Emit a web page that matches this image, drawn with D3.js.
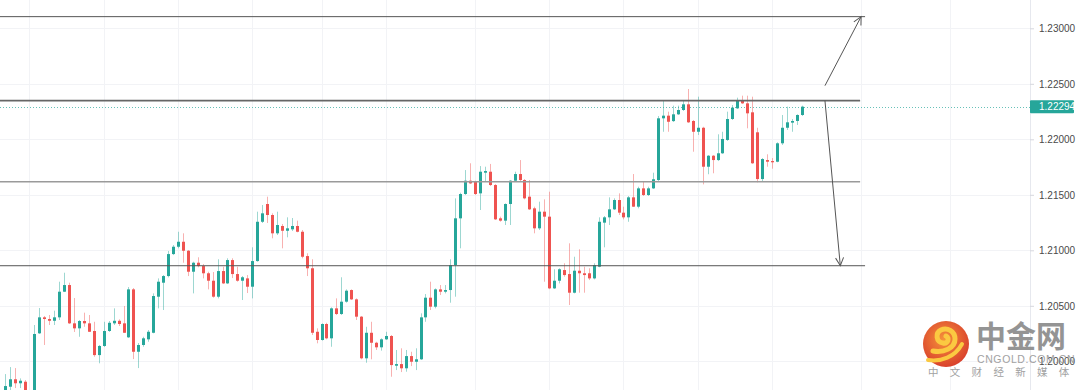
<!DOCTYPE html>
<html>
<head>
<meta charset="utf-8">
<script src="https://d3js.org/d3.v7.min.js"></script>
<style>
  html, body { margin: 0; padding: 0; background: #fff; }
  svg { display: block; font-family: 'Liberation Sans', Arial, sans-serif; }
</style>
</head>
<body>
<div class="chart"></div>
<script>
const width = 1080;
const height = 390;
const axisX = 1030;

// OHLC, one entry per bar (EUR/USD style, 5 decimals)
const opens = [1.19741,1.19771,1.19838,1.19802,1.19816,1.19723,1.19660,1.20252,1.20396,1.20381,
  1.20365,1.20396,1.20627,1.20687,1.20342,1.20297,1.20363,1.20342,1.20273,1.20056,
  1.20138,1.20273,1.20342,1.20365,1.20342,1.20216,1.20648,1.20086,1.20147,1.20198,
  1.20257,1.20582,1.20708,1.20768,1.20966,1.21032,1.21077,1.20996,1.20807,1.20888,
  1.20858,1.20793,1.20726,1.20582,1.20813,1.20702,1.20912,1.20786,1.20726,1.20747,
  1.20672,1.20903,1.21257,1.21417,1.21318,1.21153,1.21219,1.21176,1.21189,1.21219,
  1.21167,1.20948,1.20838,1.20266,1.20192,1.20336,1.20207,1.20477,1.20426,1.20537,
  1.20642,1.20558,1.20402,1.20027,1.20257,1.20167,1.20126,1.20198,1.20228,1.19960,
  1.19975,1.19937,1.20047,1.19996,1.20018,1.20396,1.20573,1.20492,1.20648,1.20627,
  1.20642,1.20867,1.21288,1.21507,1.21627,1.21618,1.21513,1.21699,1.21708,1.21588,
  1.21288,1.21267,1.21417,1.21627,1.21687,1.21633,1.21483,1.21378,1.21198,1.21348,
  1.21303,1.20657,1.20726,1.20822,1.20786,1.20618,1.20816,1.20793,1.20793,1.20747,
  1.20852,1.21249,1.21297,1.21369,1.21453,1.21339,1.21297,1.21477,1.21393,1.21558,
  1.21498,1.21558,1.21633,1.22189,1.22213,1.22164,1.22225,1.22264,1.22315,1.22165,
  1.22068,1.22104,1.21753,1.21852,1.21813,1.21874,1.21994,1.22183,1.22279,1.22345,
  1.22324,1.22243,1.22063,1.21642,1.21813,1.21804,1.21798,1.21964,1.22104,1.22150,
  1.22165,1.22219];
const highs = [1.19885,1.19948,1.19939,1.19846,1.19831,1.19741,1.20327,1.20480,1.20408,1.20417,
  1.20456,1.20717,1.20798,1.20708,1.20570,1.20372,1.20438,1.20417,1.20356,1.20147,
  1.20356,1.20363,1.20477,1.20378,1.20498,1.20669,1.20660,1.20165,1.20221,1.20282,
  1.20612,1.20747,1.20777,1.20994,1.21047,1.21167,1.21153,1.21002,1.20897,1.20937,
  1.20876,1.20807,1.20804,1.20919,1.20852,1.20928,1.20928,1.20852,1.20768,1.20777,
  1.21027,1.21348,1.21408,1.21483,1.21333,1.21348,1.21237,1.21297,1.21291,1.21267,
  1.21183,1.20973,1.20919,1.20297,1.20342,1.20347,1.20486,1.20567,1.20757,1.20648,
  1.20648,1.20567,1.20408,1.20311,1.20356,1.20176,1.20207,1.20266,1.20237,1.20102,
  1.20117,1.20102,1.20086,1.20117,1.20432,1.20606,1.20717,1.20657,1.20687,1.20687,
  1.20919,1.21468,1.21519,1.21723,1.21784,1.21627,1.21759,1.21753,1.21778,1.21597,
  1.21303,1.21423,1.21633,1.21708,1.21813,1.21642,1.21633,1.21393,1.21438,1.21459,
  1.21528,1.20829,1.20838,1.20883,1.21063,1.20942,1.21009,1.20852,1.20838,1.20883,
  1.21297,1.21309,1.21477,1.21468,1.21513,1.21393,1.21489,1.21687,1.21573,1.21618,
  1.21573,1.21699,1.22210,1.22345,1.22249,1.22303,1.22303,1.22354,1.22453,1.22174,
  1.22384,1.22113,1.21858,1.21858,1.22045,1.22068,1.22249,1.22309,1.22375,1.22393,
  1.22393,1.22384,1.22104,1.21831,1.21865,1.21831,1.21973,1.22219,1.22294,1.22183,
  1.22225,1.22303];
const lows = [1.19723,1.19741,1.19759,1.19759,1.19696,1.19615,1.19640,1.20246,1.20147,1.20327,
  1.20327,1.20372,1.20624,1.20336,1.20264,1.20221,1.20311,1.20264,1.20041,1.19982,
  1.20129,1.20264,1.20327,1.20318,1.20255,1.20210,1.20020,1.19939,1.20131,1.20176,
  1.20252,1.20477,1.20462,1.20756,1.20957,1.21018,1.20888,1.20768,1.20612,1.20847,
  1.20747,1.20648,1.20573,1.20567,1.20696,1.20696,1.20750,1.20717,1.20552,1.20615,
  1.20567,1.20897,1.21246,1.21246,1.21108,1.21138,1.21018,1.21117,1.21174,1.21162,
  1.20928,1.20768,1.20237,1.20162,1.20186,1.20198,1.20131,1.20417,1.20417,1.20528,
  1.20552,1.20372,1.20018,1.19987,1.20018,1.20102,1.20096,1.20192,1.19861,1.19921,
  1.19903,1.19906,1.19957,1.19921,1.20012,1.20356,1.20462,1.20477,1.20597,1.20612,
  1.20528,1.20582,1.21018,1.21498,1.21597,1.21498,1.21363,1.21618,1.21579,1.21273,
  1.21258,1.21228,1.21228,1.21621,1.21624,1.21459,1.21363,1.21153,1.21183,1.20717,
  1.20650,1.20651,1.20702,1.20762,1.20507,1.20612,1.20618,1.20618,1.20732,1.20738,
  1.20847,1.21027,1.21228,1.21363,1.21318,1.21279,1.21257,1.21390,1.21378,1.21489,
  1.21489,1.21552,1.21624,1.22068,1.22068,1.22156,1.22219,1.22255,1.22147,1.21888,
  1.22039,1.21594,1.21685,1.21694,1.21804,1.21868,1.21985,1.22174,1.22273,1.22318,
  1.22099,1.21778,1.21612,1.21624,1.21753,1.21735,1.21793,1.21949,1.22084,1.22068,
  1.22129,1.22210];
const closes = [1.19777,1.19838,1.19802,1.19825,1.19723,1.19651,1.20246,1.20396,1.20381,1.20365,
  1.20396,1.20627,1.20687,1.20342,1.20297,1.20363,1.20342,1.20266,1.20056,1.20138,
  1.20273,1.20347,1.20365,1.20336,1.20257,1.20648,1.20086,1.20147,1.20207,1.20266,
  1.20588,1.20717,1.20768,1.20966,1.21032,1.21077,1.20996,1.20807,1.20888,1.20858,
  1.20793,1.20726,1.20582,1.20813,1.20702,1.20912,1.20786,1.20726,1.20757,1.20672,
  1.20903,1.21257,1.21333,1.21318,1.21153,1.21228,1.21176,1.21198,1.21219,1.21167,
  1.20942,1.20838,1.20257,1.20192,1.20336,1.20207,1.20477,1.20426,1.20537,1.20636,
  1.20558,1.20402,1.20027,1.20257,1.20167,1.20126,1.20198,1.20228,1.19966,1.19975,
  1.19937,1.20047,1.19996,1.20018,1.20396,1.20573,1.20492,1.20648,1.20627,1.20642,
  1.20867,1.21288,1.21507,1.21627,1.21603,1.21507,1.21708,1.21714,1.21588,1.21279,
  1.21267,1.21417,1.21627,1.21687,1.21633,1.21468,1.21369,1.21198,1.21348,1.21303,
  1.20657,1.20726,1.20829,1.20777,1.20618,1.20816,1.20793,1.20777,1.20747,1.20867,
  1.21257,1.21297,1.21369,1.21453,1.21339,1.21297,1.21477,1.21393,1.21558,1.21498,
  1.21558,1.21640,1.22189,1.22213,1.22158,1.22225,1.22264,1.22315,1.22153,1.22068,
  1.22104,1.21753,1.21852,1.21813,1.21874,1.22003,1.22183,1.22285,1.22345,1.22324,
  1.22234,1.21784,1.21642,1.21822,1.21798,1.21793,1.21964,1.22104,1.22153,1.22165,
  1.22219,1.22294];

const lastPrice = 1.22294;
const priceTicks = [1.20000, 1.20500, 1.21000, 1.21500, 1.22000, 1.22500, 1.23000];
// bar positions of the time grid lines (last two fall in the empty right margin)
const timeGrid = [5, 20, 35, 50, 64, 77, 95, 110, 125, 140, 155, 173, 191];
// drawn horizontal levels and the bar where each one stops
const levels = [1.23105, 1.22348, 1.21618, 1.20861];
const levelEnds = [173.8, 172.8, 172.8, 173.8];
// projection arrows: [fromBar, fromPrice, toBar, toPrice]
const projections = [
  [165.7, 1.22483, 173.0, 1.23105],
  [165.7, 1.22348, 168.8, 1.20861],
];

const color = {
  up: '#26a69a',
  down: '#ef5350',
  grid: '#f2f3f6',
  text: '#4a4a4a',
  level: ['#555', '#666', '#9a9a9a', '#555'],
};
const levelWidth = [1, 1.6, 1.6, 1];

const bars = opens.map((o, i) => ({ i, o, h: highs[i], l: lows[i], c: closes[i] }));

const x = d3.scaleLinear().domain([0, 161]).range([4.7, 801.7]);
const y = d3.scaleLinear().domain([1.20, 1.23]).range([361.3, 28.3]);

const svg = d3.select('.chart')
  .append('svg')
    .attr('width', width)
    .attr('height', height)
    .attr('viewBox', [0, 0, width, height]);

const defs = svg.append('defs');
defs.append('clipPath')
  .attr('id', 'plot')
  .append('rect')
    .attr('width', axisX)
    .attr('height', height);

defs.append('marker')
  .attr('id', 'arrow')
  .attr('viewBox', [-10, -6, 12, 12])
  .attr('refX', 0)
  .attr('refY', 0)
  .attr('markerUnits', 'userSpaceOnUse')
  .attr('markerWidth', 12)
  .attr('markerHeight', 12)
  .attr('orient', 'auto')
  .append('path')
    .attr('d', 'M-8,-4L0,0L-8,4')
    .attr('fill', 'none')
    .attr('stroke', '#555')
    .attr('stroke-width', 1);

const grad = defs.append('radialGradient')
  .attr('id', 'logoGrad')
  .attr('cx', '45%')
  .attr('cy', '40%')
  .attr('r', '60%');
grad.append('stop').attr('offset', '0%').attr('stop-color', '#f58a2a');
grad.append('stop').attr('offset', '100%').attr('stop-color', '#d7321b');

// grid
const grid = svg.append('g').attr('class', 'grid');
grid.selectAll('.hgrid')
  .data(priceTicks)
  .enter().append('line')
    .attr('x1', 0)
    .attr('x2', axisX)
    .attr('y1', d => Math.round(y(d)) + 0.5)
    .attr('y2', d => Math.round(y(d)) + 0.5)
    .attr('stroke', color.grid);

grid.selectAll('.vgrid')
  .data(timeGrid)
  .enter().append('line')
    .attr('x1', d => Math.round(x(d)) + 0.5)
    .attr('x2', d => Math.round(x(d)) + 0.5)
    .attr('y1', 0)
    .attr('y2', height)
    .attr('stroke', color.grid);

// last price dotted line
svg.append('line')
  .attr('x1', 0)
  .attr('x2', axisX)
  .attr('y1', Math.round(y(lastPrice)) + 0.5)
  .attr('y2', Math.round(y(lastPrice)) + 0.5)
  .attr('stroke', color.up)
  .attr('stroke-opacity', 0.7)
  .attr('stroke-dasharray', '1,2');

// candles
const candles = svg.append('g')
  .attr('clip-path', 'url(#plot)')
  .selectAll('.candle')
  .data(bars)
  .enter().append('g')
    .attr('class', 'candle');

candles.append('line')
  .attr('x1', d => Math.round(x(d.i)) + 0.5)
  .attr('x2', d => Math.round(x(d.i)) + 0.5)
  .attr('y1', d => y(d.h))
  .attr('y2', d => y(d.l))
  .attr('stroke', d => d.c >= d.o ? color.up : color.down)
  .attr('stroke-opacity', 0.45);

candles.append('rect')
  .attr('x', d => Math.round(x(d.i)) - 1)
  .attr('width', 3)
  .attr('y', d => y(Math.max(d.o, d.c)))
  .attr('height', d => Math.max(1, Math.abs(y(d.o) - y(d.c))))
  .attr('fill', d => d.c >= d.o ? color.up : color.down);

// drawn levels
svg.selectAll('.level')
  .data(levels)
  .enter().append('line')
    .attr('class', 'level')
    .attr('x1', 0)
    .attr('x2', (d, i) => x(levelEnds[i]))
    .attr('y1', d => y(d))
    .attr('y2', d => y(d))
    .attr('stroke', (d, i) => color.level[i])
    .attr('stroke-width', (d, i) => levelWidth[i]);

svg.selectAll('.projection')
  .data(projections)
  .enter().append('line')
    .attr('class', 'projection')
    .attr('x1', d => x(d[0]))
    .attr('y1', d => y(d[1]))
    .attr('x2', d => x(d[2]))
    .attr('y2', d => y(d[3]))
    .attr('stroke', '#555')
    .attr('stroke-width', 1)
    .attr('marker-end', 'url(#arrow)');

// price axis
svg.append('line')
  .attr('x1', axisX + 0.5)
  .attr('x2', axisX + 0.5)
  .attr('y1', 0)
  .attr('y2', height)
  .attr('stroke', '#e6e8ee');

const axis = svg.append('g')
  .attr('transform', `translate(${axisX}, 0)`)
  .call(d3.axisRight(y)
    .tickValues(priceTicks)
    .tickFormat(d3.format('.5f'))
    .tickSize(4)
    .tickPadding(5));
axis.select('.domain').remove();
axis.selectAll('.tick line').attr('stroke', '#d6d8de');
axis.selectAll('.tick text')
  .attr('fill', color.text)
  .style('font-size', '10px')
  .style('font-family', "'Liberation Sans', Arial, sans-serif");

const priceTag = svg.append('g')
  .attr('transform', `translate(${axisX}, ${y(lastPrice)})`);
priceTag.append('rect')
  .attr('x', 0)
  .attr('y', -6.5)
  .attr('width', 44)
  .attr('height', 13)
  .attr('rx', 1)
  .attr('fill', color.up);
priceTag.append('text')
  .attr('x', 9)
  .attr('dy', '0.35em')
  .attr('fill', '#fff')
  .style('font-size', '10px')
  .text(d3.format('.5f')(lastPrice));

// watermark
const logo = svg.append('g')
  .attr('class', 'logo')
  .attr('opacity', 0.92);

logo.append('circle')
  .attr('cx', 946)
  .attr('cy', 344)
  .attr('r', 23)
  .attr('fill', 'url(#logoGrad)');

logo.append('path')
  .attr('d', 'M933,351 C944,353 955,348 955,339 C955,331 947,327 941,330 C935,333 936,342 943,343 C948,344 950,338 946,336')
  .attr('fill', 'none')
  .attr('stroke', '#fbc531')
  .attr('stroke-width', 5)
  .attr('stroke-linecap', 'round');
logo.append('path')
  .attr('d', 'M928,360 C941,362 955,357 962,344')
  .attr('fill', 'none')
  .attr('stroke', '#fbc531')
  .attr('stroke-width', 4)
  .attr('stroke-linecap', 'round');

logo.append('text')
  .attr('x', 976)
  .attr('y', 347)
  .attr('fill', '#8c8c8c')
  .style('font-family', "'Noto Sans CJK SC', sans-serif")
  .style('font-size', '30px')
  .style('font-weight', 'bold')
  .text('中金网');

logo.append('text')
  .attr('x', 977)
  .attr('y', 363)
  .attr('fill', '#9a9a9a')
  .style('font-size', '10.5px')
  .style('letter-spacing', '0.6px')
  .text('CNGOLD.COM.CN');

logo.append('text')
  .attr('x', 928)
  .attr('y', 376)
  .attr('fill', '#9a9a9a')
  .style('font-family', "'Noto Sans CJK SC', sans-serif")
  .style('font-size', '10.5px')
  .style('letter-spacing', '11.3px')
  .text('中文财经新媒体');
</script>
</body>
</html>
